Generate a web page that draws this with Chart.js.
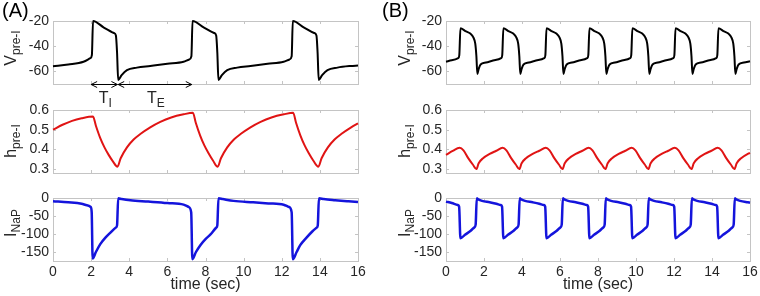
<!DOCTYPE html>
<html>
<head>
<meta charset="utf-8">
<script src="https://cdn.jsdelivr.net/npm/chart.js@4.4.1/dist/chart.umd.min.js"></script>
<style>
  html, body { margin: 0; padding: 0; background: #fff; }
  #wrap { position: relative; width: 760px; height: 296px; overflow: hidden; }
  .cell { position: absolute; }
</style>
</head>
<body>
<div id="wrap">
  <div class="cell" style="left:0;top:0;width:380px;height:110px"><canvas id="vA"></canvas></div>
  <div class="cell" style="left:0;top:95px;width:380px;height:95px"><canvas id="hA"></canvas></div>
  <div class="cell" style="left:0;top:180px;width:380px;height:116px"><canvas id="iA"></canvas></div>
  <div class="cell" style="left:380px;top:0;width:380px;height:110px"><canvas id="vB"></canvas></div>
  <div class="cell" style="left:380px;top:95px;width:380px;height:95px"><canvas id="hB"></canvas></div>
  <div class="cell" style="left:380px;top:180px;width:380px;height:116px"><canvas id="iB"></canvas></div>
</div>
<script>
// axis ticks
var timeTicks = [0, 2, 4, 6, 8, 10, 12, 14, 16];
var vTicks = [-60, -40, -20];
var hTicks = [0.3, 0.4, 0.5, 0.6];
var iTicks = [-150, -100, -50, 0];

// (A) V_pre-I
var tA_V = [0, 0.8, 1.6, 1.96, 2.04, 2.1, 2.65, 3.2, 3.3, 3.36, 3.42, 3.6, 3.88, 4.4, 5.1, 6.0, 6.85, 7.15, 7.26,
  7.32, 7.9, 8.45, 8.56, 8.62, 8.68, 8.86, 9.14, 9.66, 10.36, 11.26, 12.1, 12.41, 12.52,
  12.58, 13.15, 13.7, 13.82, 13.88, 13.94, 14.12, 14.4, 14.92, 15.62, 16];
var vA = [-56, -54.5, -52.3, -49.5, -47, -20, -25, -29.5, -31.5, -45, -66.8, -63, -59, -57, -55.7, -54, -52.3, -50.5, -48,
  -20, -25, -29.5, -31.5, -45, -66.8, -63, -59, -57, -55.7, -54, -52.3, -50.5, -48,
  -20, -25, -29.5, -31.5, -45, -66.8, -63, -59, -57, -55.7, -55.3];

// (A) h_pre-I
var tA_h = [0, 0.5, 1.0, 1.5, 2.1, 2.25, 2.48, 2.7, 2.92, 3.15, 3.38,
  3.55, 3.88, 4.23, 4.58, 5.1, 5.63, 6.2, 6.85, 7.34, 7.49, 7.72, 7.94, 8.16, 8.4, 8.64,
  8.81, 9.14, 9.49, 9.84, 10.36, 10.89, 11.46, 12.11, 12.6, 12.75, 12.98, 13.2, 13.42, 13.66, 13.92,
  14.09, 14.42, 14.77, 15.12, 15.64, 16];
var hA = [0.50, 0.525, 0.545, 0.558, 0.567, 0.52, 0.457, 0.41, 0.372, 0.338, 0.312,
  0.355, 0.41, 0.45, 0.478, 0.512, 0.54, 0.562, 0.578, 0.586, 0.535, 0.47, 0.42, 0.38, 0.342, 0.312,
  0.355, 0.41, 0.45, 0.478, 0.512, 0.54, 0.562, 0.578, 0.586, 0.535, 0.47, 0.42, 0.38, 0.342, 0.312,
  0.355, 0.41, 0.45, 0.478, 0.512, 0.532];

// (A) I_NaP
var tA_I = [0, 0.8, 1.5, 1.78, 1.98, 2.03, 2.08, 2.25, 2.48, 2.75, 3.0, 3.3, 3.36, 3.42,
  3.6, 4.06, 5.0, 6.0, 6.85, 7.12, 7.25, 7.31, 7.5, 7.73, 8.0, 8.25, 8.57, 8.62, 8.68,
  8.9, 9.47, 10.5, 11.3, 12.1, 12.38, 12.52, 12.58, 12.78, 12.97, 13.3, 13.6, 13.84, 13.89, 13.95,
  14.2, 14.8, 15.5, 16];
var iA = [-9, -12, -16, -20, -25, -40, -168, -150, -128, -110, -97, -82, -76, -1,
  -3, -6.5, -10, -14, -18.5, -25, -40, -170, -150, -131, -114, -102, -82, -76, -1,
  -3, -8, -12, -15, -18.5, -25, -40, -170, -150, -131, -110, -93, -82, -76, -1,
  -3, -6, -9, -11];

// (B) V_pre-I
var tB_V = [0, 0.3, 0.64, 0.7,
  0.76, 1.02, 1.28, 1.44, 1.54, 1.60, 1.65, 1.72, 1.82, 2.10, 2.60, 2.90, 2.96,
  3.02, 3.28, 3.54, 3.70, 3.80, 3.86, 3.91, 3.98, 4.08, 4.36, 4.86, 5.17, 5.23,
  5.29, 5.55, 5.81, 5.97, 6.07, 6.13, 6.18, 6.25, 6.35, 6.63, 7.13, 7.43, 7.49,
  7.55, 7.81, 8.07, 8.23, 8.33, 8.39, 8.44, 8.51, 8.61, 8.89, 9.39, 9.69, 9.75,
  9.81, 10.07, 10.33, 10.49, 10.59, 10.65, 10.70, 10.77, 10.87, 11.15, 11.65, 11.96, 12.02,
  12.08, 12.34, 12.60, 12.76, 12.86, 12.92, 12.97, 13.04, 13.14, 13.42, 13.92, 14.22, 14.28,
  14.34, 14.60, 14.86, 15.02, 15.12, 15.18, 15.23, 15.30, 15.40, 15.68, 16.00];
var vB = [-52.3, -51.2, -49.5, -47,
  -25.8, -28, -30, -33, -38, -48, -62, -58, -54.5, -53, -51, -49.5, -47,
  -25.8, -28, -30, -33, -38, -48, -62, -58, -54.5, -53, -51, -49.5, -47,
  -25.8, -28, -30, -33, -38, -48, -62, -58, -54.5, -53, -51, -49.5, -47,
  -25.8, -28, -30, -33, -38, -48, -62, -58, -54.5, -53, -51, -49.5, -47,
  -25.8, -28, -30, -33, -38, -48, -62, -58, -54.5, -53, -51, -49.5, -47,
  -25.8, -28, -30, -33, -38, -48, -62, -58, -54.5, -53, -51, -49.5, -47,
  -25.8, -28, -30, -33, -38, -48, -62, -58, -54.5, -53, -52];

// (B) h_pre-I
var tB_h = [0, 0.35,
  0.72, 0.92, 1.16, 1.42, 1.60, 1.72, 1.95, 2.30, 2.65,
  2.98, 3.18, 3.42, 3.68, 3.86, 3.98, 4.21, 4.56, 4.91,
  5.25, 5.45, 5.69, 5.95, 6.13, 6.25, 6.48, 6.83, 7.18,
  7.51, 7.71, 7.95, 8.21, 8.39, 8.51, 8.74, 9.09, 9.44,
  9.77, 9.97, 10.21, 10.47, 10.65, 10.77, 11.00, 11.35, 11.70,
  12.04, 12.24, 12.48, 12.74, 12.92, 13.04, 13.27, 13.62, 13.97,
  14.30, 14.50, 14.74, 15.00, 15.18, 15.30, 15.53, 15.88, 16.00];
var hB = [0.372, 0.392,
  0.408, 0.395, 0.357, 0.322, 0.30, 0.33, 0.355, 0.377, 0.393,
  0.408, 0.395, 0.357, 0.322, 0.30, 0.33, 0.355, 0.377, 0.393,
  0.408, 0.395, 0.357, 0.322, 0.30, 0.33, 0.355, 0.377, 0.393,
  0.408, 0.395, 0.357, 0.322, 0.30, 0.33, 0.355, 0.377, 0.393,
  0.408, 0.395, 0.357, 0.322, 0.30, 0.33, 0.355, 0.377, 0.393,
  0.408, 0.395, 0.357, 0.322, 0.30, 0.33, 0.355, 0.377, 0.393,
  0.408, 0.395, 0.357, 0.322, 0.30, 0.33, 0.355, 0.377, 0.382];

// (B) I_NaP
var tB_I = [0, 0.3, 0.62, 0.69,
  0.76, 1.0, 1.3, 1.5, 1.56, 1.62, 1.7, 1.9, 2.3, 2.65, 2.88, 2.95,
  3.02, 3.26, 3.56, 3.76, 3.82, 3.88, 3.96, 4.16, 4.56, 4.91, 5.15, 5.22,
  5.29, 5.53, 5.83, 6.03, 6.09, 6.15, 6.23, 6.43, 6.83, 7.18, 7.41, 7.48,
  7.55, 7.79, 8.09, 8.29, 8.35, 8.41, 8.49, 8.69, 9.09, 9.44, 9.67, 9.74,
  9.81, 10.05, 10.35, 10.55, 10.61, 10.67, 10.75, 10.95, 11.35, 11.7, 11.94, 12.01,
  12.08, 12.32, 12.62, 12.82, 12.88, 12.94, 13.02, 13.22, 13.62, 13.97, 14.2, 14.27,
  14.34, 14.58, 14.88, 15.08, 15.14, 15.2, 15.28, 15.48, 15.88, 16];
var iB = [-10, -14, -19.5, -24,
  -112, -102, -91, -81, -74, -1, -4, -8, -12, -16, -19.5, -24,
  -112, -102, -91, -81, -74, -1, -4, -8, -12, -16, -19.5, -24,
  -112, -102, -91, -81, -74, -1, -4, -8, -12, -16, -19.5, -24,
  -112, -102, -91, -81, -74, -1, -4, -8, -12, -16, -19.5, -24,
  -112, -102, -91, -81, -74, -1, -4, -8, -12, -16, -19.5, -24,
  -112, -102, -91, -81, -74, -1, -4, -8, -12, -16, -19.5, -24,
  -112, -102, -91, -81, -74, -1, -4, -8, -12, -13];

// T_I and T_E spans in (A), seconds
var tiSpan = [2.0, 3.38];
var teSpan = [3.42, 7.28];

var FONT = '"Liberation Sans", Arial, Helvetica, sans-serif';
Chart.defaults.font.family = FONT;
Chart.defaults.font.size = 14;
Chart.defaults.color = '#262626';

function pts(ts, vs) {
  return ts.map(function (t, i) { return { x: t, y: vs[i] }; });
}

function tickList(arr) {
  return function (s) { s.ticks = arr.map(function (v) { return { value: v }; }); };
}

function drawSubLabel(ctx, main, sub, x, y, size, rotate) {
  ctx.save();
  ctx.translate(x, y);
  if (rotate) ctx.rotate(-Math.PI / 2);
  ctx.fillStyle = '#262626';
  ctx.textAlign = 'left';
  ctx.textBaseline = 'alphabetic';
  ctx.font = size + 'px ' + FONT;
  var w1 = ctx.measureText(main).width;
  ctx.font = Math.round(size * 0.75) + 'px ' + FONT;
  var w2 = ctx.measureText(sub).width;
  var x0 = -(w1 + w2) / 2;
  ctx.font = size + 'px ' + FONT;
  ctx.fillText(main, x0, 0);
  ctx.font = Math.round(size * 0.75) + 'px ' + FONT;
  ctx.fillText(sub, x0 + w1, 4);
  ctx.restore();
}

function arrow(ctx, x1, x2, y) {
  ctx.beginPath();
  ctx.moveTo(x1, y); ctx.lineTo(x2, y);
  ctx.moveTo(x1 + 6, y - 3); ctx.lineTo(x1, y); ctx.lineTo(x1 + 6, y + 3);
  ctx.moveTo(x2 - 6, y - 3); ctx.lineTo(x2, y); ctx.lineTo(x2 - 6, y + 3);
  ctx.stroke();
}

function makePlot(id, cfg) {
  var box = {
    id: 'axesBox',
    beforeDatasetsDraw: function (chart) {
      var a = chart.chartArea, ctx = chart.ctx;
      var xs = chart.scales.x, ys = chart.scales.y;
      ctx.save();
      ctx.strokeStyle = '#c4c4c4';
      ctx.lineWidth = 1;
      ctx.strokeRect(Math.round(a.left) + 0.5, Math.round(a.top) + 0.5,
        Math.round(a.right - a.left), Math.round(a.bottom - a.top));
      ctx.beginPath();
      timeTicks.forEach(function (t) {
        var px = Math.round(xs.getPixelForValue(t)) + 0.5;
        ctx.moveTo(px, a.bottom); ctx.lineTo(px, a.bottom - 3);
        ctx.moveTo(px, a.top); ctx.lineTo(px, a.top + 3);
      });
      ys.ticks.forEach(function (tk) {
        var py = Math.round(ys.getPixelForValue(tk.value)) + 0.5;
        ctx.moveTo(a.left, py); ctx.lineTo(a.left + 3, py);
        ctx.moveTo(a.right, py); ctx.lineTo(a.right - 3, py);
      });
      ctx.stroke();
      ctx.restore();
    },
    afterDraw: function (chart) {
      var ctx = chart.ctx, a = chart.chartArea;
      drawSubLabel(ctx, cfg.label[0], cfg.label[1], cfg.labelX, cfg.labelY, 16, true);
      if (cfg.panel) {
        ctx.save();
        ctx.fillStyle = '#000';
        ctx.font = '20px ' + FONT;
        ctx.textBaseline = 'top';
        ctx.fillText(cfg.panel, 2, 1);
        ctx.restore();
      }
      if (cfg.spans) {
        var xs = chart.scales.x, y = Math.round(a.bottom) + 0.5;
        ctx.save();
        ctx.strokeStyle = '#000';
        ctx.lineWidth = 1;
        var x1 = xs.getPixelForValue(tiSpan[0]), x2 = xs.getPixelForValue(tiSpan[1]);
        var x3 = xs.getPixelForValue(teSpan[0]), x4 = xs.getPixelForValue(teSpan[1]);
        arrow(ctx, x1, x2, y);
        arrow(ctx, x3, x4, y);
        ctx.restore();
        drawSubLabel(ctx, 'T', 'I', (x1 + x2) / 2 + 1, y + 18, 16, false);
        drawSubLabel(ctx, 'T', 'E', (x3 + x4) / 2 + 1, y + 18, 16, false);
      }
    }
  };

  var xOpts = {
    type: 'linear', min: 0, max: 16,
    display: cfg.showX,
    grid: { display: false, drawTicks: false },
    border: { display: false },
    afterBuildTicks: tickList(timeTicks),
    ticks: { padding: 3, font: { size: 14 }, maxRotation: 0, autoSkip: false },
    title: { display: true, text: 'time (sec)', font: { size: 16 }, padding: { top: 0, bottom: 2 } },
    afterFit: function (s) { s.height = cfg.xh || 0; s.paddingLeft = 0; s.paddingRight = 0; }
  };

  return new Chart(document.getElementById(id), {
    type: 'line',
    data: {
      datasets: [{
        data: pts(cfg.t, cfg.v),
        borderColor: cfg.color,
        borderWidth: cfg.width,
        pointRadius: 0,
        fill: false,
        cubicInterpolationMode: 'monotone',
        clip: 4
      }]
    },
    options: {
      responsive: true,
      maintainAspectRatio: false,
      animation: false,
      events: [],
      layout: { padding: cfg.pad },
      plugins: { legend: { display: false }, tooltip: { enabled: false } },
      scales: {
        x: xOpts,
        y: {
          min: cfg.yMin, max: cfg.yMax,
          grid: { display: false, drawTicks: false },
          border: { display: false },
          afterBuildTicks: tickList(cfg.ticks),
          ticks: { padding: 4, font: { size: 14 } },
          afterFit: function (s) { s.width = cfg.yw; s.paddingTop = 0; s.paddingBottom = 0; }
        }
      }
    },
    plugins: [box]
  });
}

var black = '#000000', red = '#e01414', blue = '#1414dc';

makePlot('vA', { t: tA_V, v: vA, color: black, width: 2, yMin: -70, yMax: -20, ticks: vTicks,
  label: ['V', 'pre-I'], labelX: 16, labelY: 48, panel: '(A)', spans: true,
  yw: 53, pad: { left: 0, right: 22, top: 21, bottom: 26 }, showX: false });
makePlot('hA', { t: tA_h, v: hA, color: red, width: 2, yMin: 0.28, yMax: 0.6, ticks: hTicks,
  label: ['h', 'pre-I'], labelX: 16, labelY: 46, yw: 53,
  pad: { left: 0, right: 22, top: 15, bottom: 17 }, showX: false });
makePlot('iA', { t: tA_I, v: iA, color: blue, width: 2.5, yMin: -175, yMax: 0, ticks: iTicks,
  label: ['I', 'NaP'], labelX: 16, labelY: 43, yw: 53,
  pad: { left: 0, right: 22, top: 18, bottom: 0 }, showX: true, xh: 35 });

makePlot('vB', { t: tB_V, v: vB, color: black, width: 2, yMin: -70, yMax: -20, ticks: vTicks,
  label: ['V', 'pre-I'], labelX: 30, labelY: 48, panel: '(B)',
  yw: 66, pad: { left: 0, right: 10, top: 21, bottom: 26 }, showX: false });
makePlot('hB', { t: tB_h, v: hB, color: red, width: 2, yMin: 0.28, yMax: 0.6, ticks: hTicks,
  label: ['h', 'pre-I'], labelX: 30, labelY: 46, yw: 66,
  pad: { left: 0, right: 10, top: 15, bottom: 17 }, showX: false });
makePlot('iB', { t: tB_I, v: iB, color: blue, width: 2.5, yMin: -175, yMax: 0, ticks: iTicks,
  label: ['I', 'NaP'], labelX: 30, labelY: 43, yw: 66,
  pad: { left: 0, right: 10, top: 18, bottom: 0 }, showX: true, xh: 35 });
</script>
</body>
</html>
